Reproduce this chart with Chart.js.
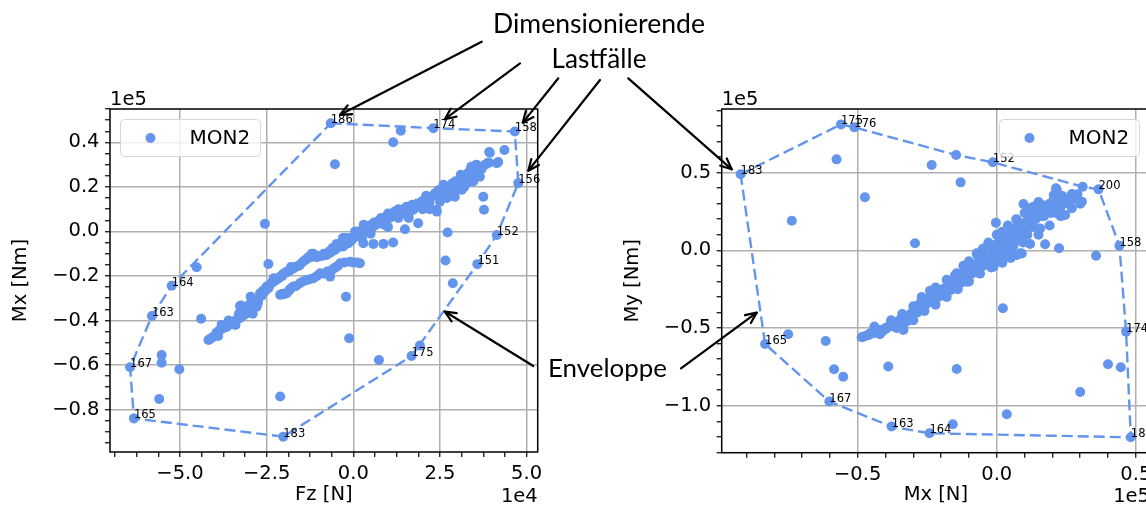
<!DOCTYPE html>
<html>
<head>
<meta charset="utf-8">
<script src="https://cdn.jsdelivr.net/npm/chart.js@4"></script>
<style>
  html, body { margin: 0; padding: 0; background: #fff; overflow: hidden; }
  #wrap { position: relative; width: 1146px; height: 506px; overflow: hidden; }
  canvas { position: absolute; top: 0; }
  #chartFz { left: 0; }
  #chartMx { left: 610px; }
  #overlay { left: 0; pointer-events: none; }
</style>
</head>
<body>
<div id="wrap">
  <canvas id="chartFz" width="560" height="506"></canvas>
  <canvas id="chartMx" width="550" height="506"></canvas>
  <canvas id="overlay" width="1146" height="506"></canvas>
</div>
<script>
// ---- left plot: Fz [1e4 N] vs Mx [1e5 Nm] ----
const fzPoints = [
  // upper strand
  -4.15, -4.10, -4.04, -3.95, -3.90, -3.85, -3.75, -3.70, -3.65, -3.55, -3.50, -3.46, -3.40, -3.35, -3.28, -3.22,
  -3.15, -3.10, -3.05, -2.98, -2.90, -2.85, -2.79, -2.75, -3.24, -2.96, -2.69, -2.65, -2.60, -2.55, -2.50, -2.45,
  -2.40, -2.35, -2.31, -2.25, -2.20, -2.15, -2.11, -2.05, -2.02, -1.95, -1.92, -1.87, -1.83, -1.78, -1.73, -1.68,
  -1.64, -1.58, -1.54, -1.48, -1.40, -1.35, -1.30, -1.20, -1.15, -1.06, -0.98, -0.90, -0.85, -0.77, -0.70, -0.65,
  -0.60, -0.53, -0.48, -0.45, -0.40, -0.35, -0.29, -0.25, -0.14, -0.10, -0.05, 0.00, 0.05, 0.10, 0.15, 0.19,
  0.28, 0.34, 0.40, 0.45, 0.52, 0.58, 0.65, 0.70, 0.77, 0.85, 0.96, 1.05, 1.10, 1.15, 1.20, 1.25,
  1.35, 1.40, 1.45, 1.50, 1.54, 1.65, 1.73, 1.80, 1.85, 1.92, 1.98, 2.07, 2.12, 2.21, 2.30, 2.35,
  2.41, 2.45, 2.50, 2.60, 2.65, 2.70, 2.79, 2.85, 2.88, 2.95, 2.98, 3.07, 3.10, 3.17, 3.22, 3.28,
  3.32, 3.37, 3.45, 3.50, 3.56, 3.60, 3.65, 3.80, 3.89, 3.94, 0.05, 0.25, -0.20, 0.60, 0.90, 1.00,
  1.30, 1.60, 2.00, 2.20, 2.55, 2.75, 3.00, 3.30, 3.70, 3.39, -3.60, -3.00,
  -3.80, -3.30, -2.80, -2.30, -1.80, -1.20, -0.30, 0.30, 0.80, 1.30, 1.70, 2.10, 2.60, 3.10, 3.40, 3.55,
  -3.90, -3.40, -2.90, 0.50, 1.00, 1.60, 2.20, 2.70, 3.20,
  // lower strand
  -2.11, -2.05, -2.00, -1.92, -1.85, -1.80, -1.73, -1.65, -1.54, -1.45, -1.34, -1.25, -1.15, -1.05, -0.96, -0.85,
  -0.75, -0.67, -0.62, -0.55, -0.50, -0.45, -0.38, -0.25, -0.10, 0.00, 0.10, 0.19, 0.29, 0.58, 0.87, 1.15,
  1.49, 1.87, 2.41, 2.50, 2.93, 3.13, 3.46,
  // scattered cases
  -0.53, 1.15, 1.37, 3.92, 4.36, 3.91, 4.18, 3.75, 3.77, 2.72, 2.66, 2.87, 2.40, -2.55, -0.21, -2.45,
  -4.52, -4.39, -4.18, -5.53, -5.53, -5.02, -5.60, -2.11, -3.27, -0.12, 0.74, 1.92, 4.14
];
const mxPoints = [
  -0.485, -0.480, -0.473, -0.455, -0.450, -0.443, -0.435, -0.430, -0.428, -0.418, -0.410, -0.410, -0.400, -0.395, -0.390, -0.383,
  -0.375, -0.370, -0.365, -0.360, -0.345, -0.340, -0.338, -0.320, -0.333, -0.293, -0.278, -0.290, -0.265, -0.270, -0.248, -0.255,
  -0.240, -0.230, -0.226, -0.220, -0.215, -0.210, -0.203, -0.200, -0.190, -0.185, -0.181, -0.180, -0.175, -0.170, -0.166, -0.160,
  -0.158, -0.155, -0.151, -0.140, -0.130, -0.125, -0.116, -0.115, -0.100, -0.116, -0.110, -0.110, -0.100, -0.106, -0.090, -0.095,
  -0.075, -0.083, -0.056, -0.065, -0.070, -0.055, -0.068, -0.045, -0.053, -0.030, -0.040, -0.031, -0.020, -0.020, 0.000, -0.016,
  0.005, 0.010, 0.020, 0.015, 0.030, 0.022, 0.030, 0.045, 0.037, 0.050, 0.052, 0.060, 0.070, 0.074, 0.090, 0.080,
  0.089, 0.080, 0.100, 0.095, 0.111, 0.105, 0.097, 0.110, 0.125, 0.119, 0.135, 0.142, 0.150, 0.149, 0.160, 0.170,
  0.172, 0.185, 0.180, 0.187, 0.200, 0.195, 0.201, 0.215, 0.210, 0.225, 0.217, 0.225, 0.240, 0.231, 0.250, 0.250,
  0.265, 0.269, 0.255, 0.275, 0.262, 0.285, 0.246, 0.300, 0.309, 0.354, 0.000, -0.030, -0.030, 0.040, 0.030, 0.080,
  0.060, 0.080, 0.100, 0.130, 0.150, 0.170, 0.190, 0.220, 0.280, 0.276, -0.400, -0.330,
  -0.420, -0.370, -0.310, -0.210, -0.160, -0.100, -0.030, 0.030, 0.060, 0.100, 0.120, 0.160, 0.210, 0.255, 0.290, 0.300,
  -0.470, -0.420, -0.370, -0.010, 0.020, 0.060, 0.100, 0.150, 0.200,
  -0.285, -0.280, -0.282, -0.278, -0.265, -0.255, -0.248, -0.245, -0.233, -0.225, -0.218, -0.215, -0.210, -0.200, -0.188, -0.190,
  -0.180, -0.203, -0.173, -0.165, -0.160, -0.155, -0.143, -0.140, -0.136, -0.140, -0.140, -0.143, -0.053, -0.056, -0.056, -0.050,
  0.010, 0.037, 0.089, 0.134, 0.156, 0.187, 0.224,
  0.302, 0.401, 0.452, 0.357, 0.366, 0.309, 0.312, 0.156, 0.097, -0.005, -0.131, -0.233, 0.097, 0.034, -0.293, -0.146,
  -0.161, -0.392, -0.488, -0.555, -0.590, -0.619, -0.753, -0.742, -0.335, -0.480, -0.578, -0.513, 0.306
];
// envelope (hull) vertices, closed, with load case numbers
const hullFz = [-0.65, 2.31, 4.66, 4.76, 4.14, 3.58, 1.68, -2.02, -6.33, -6.44, -5.81, -5.24, -0.65];
const hullMx = [0.486, 0.464, 0.449, 0.217, -0.016, -0.147, -0.560, -0.922, -0.840, -0.610, -0.380, -0.244, 0.486];
const hullFzLabels = ['186', '174', '158', '156', '152', '151', '175', '183', '165', '167', '163', '164', ''];

// ---- right plot: Mx [1e5 N] vs My [1e5 Nm] ----
const mxPointsR = [
  // scattered cases
  -0.576, -0.737, -0.474, -0.234, -0.130, -0.294, -0.003, 0.096, 0.213, 0.270, 0.306, 0.174, 0.224, 0.357, -0.750, -0.615,
  -0.585, -0.552, -0.390, 0.022, -0.144, 0.036, 0.300, 0.400, 0.446, -0.158,
  // main band
  -0.486, -0.480, -0.456, -0.444, -0.420, -0.408, -0.396, -0.384, -0.354, -0.336, -0.336, -0.318, -0.300, -0.294, -0.276, -0.260,
  -0.240, -0.234, -0.220, -0.204, -0.190, -0.180, -0.160, -0.144, -0.120, -0.108, -0.108, -0.090, -0.072, -0.054, -0.036, -0.012,
  -0.018, -0.030, 0.000, 0.012, 0.036, 0.060, 0.072, 0.050, 0.084, 0.100, 0.120, 0.144, 0.156, 0.130, 0.180, 0.170,
  0.204, 0.216, 0.240, 0.276, 0.200, 0.230, 0.132, 0.180, 0.216, 0.246, 0.072, 0.036, 0.012, 0.084, 0.042, -0.036,
  -0.072, -0.200, -0.170, -0.250, -0.310, -0.130, -0.060, 0.020, 0.110,
  -0.470, -0.460, -0.430, -0.410, -0.400, -0.370, -0.360, -0.350, -0.330, -0.320, -0.310, -0.290, -0.285, -0.270, -0.265, -0.250,
  -0.245, -0.230, -0.225, -0.210, -0.210, -0.195, -0.185, -0.170, -0.165, -0.150, -0.150, -0.135, -0.130, -0.120, -0.110, -0.100,
  -0.090, -0.080, -0.070, -0.060, -0.050, -0.045, -0.030, -0.020, -0.010, 0.000, 0.005, 0.020, 0.025, 0.030, 0.045, 0.050,
  0.060, 0.065, 0.070, 0.080, 0.090, 0.095, 0.105, 0.110, 0.125, 0.130, 0.140, 0.150, 0.160, 0.165, 0.175, 0.190,
  0.195, 0.205, 0.210, 0.225, 0.235, 0.250, 0.260, 0.285, 0.290,
  -0.440, -0.380, -0.340, -0.300, -0.270, -0.240, -0.220, -0.180, -0.150, -0.120, -0.100, -0.070, -0.050, -0.030, 0.000, 0.020,
  0.040, 0.070, 0.100, 0.120, 0.150,
  -0.420, -0.360, -0.300, -0.260, -0.220, -0.180, -0.140, -0.100, -0.060, -0.020, 0.020, 0.050, 0.090, 0.120, 0.150, 0.190,
  0.230, 0.270, 0.300
];
const myPointsR = [
  0.585, 0.190, 0.341, 0.549, 0.437, 0.045, 0.178, 0.298, 0.399, 0.362, 0.313, 0.039, 0.013, -0.035, -0.540, -0.583,
  -0.765, -0.813, -0.748, -0.373, -0.763, -1.055, -0.911, -0.733, -0.752, -1.119,
  -0.559, -0.556, -0.534, -0.534, -0.513, -0.513, -0.502, -0.480, -0.459, -0.513, -0.502, -0.430, -0.395, -0.395, -0.341, -0.360,
  -0.320, -0.320, -0.280, -0.255, -0.290, -0.234, -0.210, -0.148, -0.191, -0.127, -0.202, -0.150, -0.105, -0.019, -0.062, -0.105,
  0.023, -0.040, -0.020, 0.077, 0.002, 0.109, -0.030, 0.040, 0.174, 0.120, 0.195, 0.238, 0.141, 0.210, 0.270, 0.220,
  0.323, 0.388, 0.313, 0.345, 0.270, 0.280, 0.280, 0.270, 0.238, 0.227, 0.195, 0.109, 0.066, -0.019, -0.030, 0.023,
  -0.019, -0.270, -0.240, -0.330, -0.420, -0.160, -0.070, 0.030, 0.160,
  -0.550, -0.545, -0.525, -0.520, -0.500, -0.490, -0.470, -0.450, -0.440, -0.455, -0.410, -0.380, -0.400, -0.360, -0.330, -0.340,
  -0.310, -0.300, -0.330, -0.270, -0.300, -0.250, -0.270, -0.230, -0.255, -0.200, -0.230, -0.170, -0.210, -0.150, -0.180, -0.140,
  -0.120, -0.090, -0.130, -0.070, -0.100, -0.040, -0.080, -0.050, 0.000, 0.040, -0.070, 0.020, -0.040, 0.070, 0.000, 0.090,
  0.030, 0.140, 0.060, 0.100, 0.150, 0.050, 0.180, 0.100, 0.220, 0.150, 0.200, 0.260, 0.220, 0.290, 0.250, 0.300,
  0.240, 0.355, 0.290, 0.320, 0.350, 0.330, 0.300, 0.330, 0.360,
  -0.490, -0.450, -0.410, -0.360, -0.300, -0.260, -0.240, -0.190, -0.160, -0.100, -0.070, -0.030, 0.010, 0.050, 0.100, 0.120,
  0.160, 0.200, 0.240, 0.270, 0.310,
  -0.540, -0.500, -0.450, -0.390, -0.350, -0.300, -0.250, -0.200, -0.150, -0.110, -0.080, -0.050, -0.020, 0.040, 0.100, 0.160,
  0.220, 0.270, 0.300
];
const hullMxR = [-0.921, -0.560, -0.512, -0.146, -0.014, 0.309, 0.366, 0.441, 0.465, 0.482, -0.242, -0.378, -0.602, -0.833, -0.921];
const hullMyR = [0.489, 0.810, 0.791, 0.613, 0.566, 0.409, 0.392, 0.030, -0.523, -1.203, -1.177, -1.134, -0.973, -0.603, 0.489];
const hullMxLabels = ['183', '175', '176', '', '152', '', '200', '158', '174', '186', '164', '163', '167', '165', ''];

const seriesLabel = 'MON2';

const MPL_FONT = '"DejaVu Sans", sans-serif';
const BLUE = '#6495ED';

function isMajor(value, major) {
  const r = value / major;
  return Math.abs(r - Math.round(r)) < 1e-6;
}

function tickLabel(major) {
  return function (value) {
    if (!isMajor(value, major)) return '';
    const v = Math.round(value * 10) / 10;
    return (v === 0 ? 0 : v).toFixed(1).replace('-', '\u2212');
  };
}

function axis(o) {
  return {
    type: 'linear',
    position: o.position,
    min: o.min,
    max: o.max,
    afterFit: s => { if (o.position === 'left') s.width = o.size; else s.height = o.size; },
    title: {
      display: true, text: o.title, color: '#000', padding: o.titlePad,
      font: { family: MPL_FONT, size: 19.5, lineHeight: 1 }
    },
    ticks: {
      stepSize: o.minor, includeBounds: false, autoSkip: false, maxRotation: 0,
      color: '#000', padding: 5.5, font: { family: MPL_FONT, size: 19.5 },
      callback: tickLabel(o.major)
    },
    grid: {
      color: c => isMajor(c.tick.value, o.major) ? '#b0b0b0' : 'rgba(0,0,0,0)',
      lineWidth: 1.5, tickColor: '#000', tickLength: 5, tickWidth: 1.2
    },
    border: { display: false }
  };
}

function toXY(xs, ys) {
  return xs.map((x, i) => ({ x: x, y: ys[i] }));
}

// frame, legend, hull labels and offset text like matplotlib
const mplExtras = {
  id: 'mplExtras',
  afterDatasetsDraw(chart, args, o) {
    const ctx = chart.ctx;
    const a = chart.chartArea;
    ctx.save();

    // load case numbers at the envelope vertices
    const hullMeta = chart.getDatasetMeta(1);
    ctx.font = '11.5px ' + MPL_FONT;
    ctx.fillStyle = '#000';
    ctx.textAlign = 'left';
    ctx.textBaseline = 'alphabetic';
    o.hullLabels.forEach((t, i) => {
      if (!t) return;
      const el = hullMeta.data[i];
      ctx.fillText(t, el.x, el.y);
    });

    // frame
    ctx.strokeStyle = '#000';
    ctx.lineWidth = 1.5;
    ctx.strokeRect(a.left, a.top, a.right - a.left, a.bottom - a.top);

    // legend
    const ds = chart.data.datasets[0];
    const w = 140, h = 37;
    const bx = o.legendRight ? a.right - 10.5 - w : a.left + 10.5;
    const by = a.top + 10.5;
    ctx.beginPath();
    ctx.roundRect(bx, by, w, h, 4);
    ctx.fillStyle = 'rgba(255,255,255,0.8)';
    ctx.fill();
    ctx.strokeStyle = '#d6d6d6';
    ctx.lineWidth = 1;
    ctx.stroke();
    ctx.beginPath();
    ctx.arc(bx + 30, by + h / 2, 5, 0, Math.PI * 2);
    ctx.fillStyle = ds.backgroundColor;
    ctx.fill();
    ctx.fillStyle = '#000';
    ctx.font = '20px ' + MPL_FONT;
    ctx.textBaseline = 'middle';
    ctx.fillText(ds.label, bx + 69, by + h / 2 + 1);

    // offset texts
    ctx.font = '19.5px ' + MPL_FONT;
    ctx.textBaseline = 'alphabetic';
    ctx.textAlign = 'left';
    ctx.fillText(o.yOffset, a.left, a.top - 4);
    ctx.textAlign = 'right';
    ctx.fillText(o.xOffset, a.right, chart.height - 4);
    ctx.restore();
  }
};

function makeChart(id, pts, hull, o) {
  return new Chart(document.getElementById(id), {
    type: 'scatter',
    data: {
      datasets: [
        {
          label: seriesLabel,
          data: pts,
          backgroundColor: BLUE,
          borderWidth: 0,
          pointRadius: 5
        },
        {
          label: 'Enveloppe',
          data: hull,
          showLine: true,
          borderColor: BLUE,
          borderWidth: 2.4,
          borderDash: [11, 5],
          pointRadius: 0,
          fill: false
        }
      ]
    },
    options: {
      responsive: false,
      animation: false,
      events: [],
      layout: { padding: { left: 0, top: 109, right: o.padRight, bottom: 0 } },
      scales: { x: o.x, y: o.y },
      plugins: {
        legend: { display: false },
        tooltip: { enabled: false },
        mplExtras: o.extras
      }
    },
    plugins: [mplExtras]
  });
}

const chartFz = makeChart('chartFz',
  toXY(fzPoints.concat(hullFz.slice(0, -1)), mxPoints.concat(hullMx.slice(0, -1))),
  toXY(hullFz, hullMx),
  {
    padRight: 22.3,
    x: axis({ position: 'bottom', min: -7.02, max: 5.32, major: 2.5, minor: 0.625, size: 54, title: 'Fz [N]', titlePad: 1.2 }),
    y: axis({ position: 'left', min: -0.991, max: 0.55, major: 0.2, minor: 0.05, size: 110, title: 'Mx [Nm]', titlePad: 11.4 }),
    extras: { hullLabels: hullFzLabels, legendRight: false, xOffset: '1e4', yOffset: '1e5' }
  });

const chartMx = makeChart('chartMx',
  toXY(mxPointsR.concat(hullMxR.slice(0, -1)), myPointsR.concat(hullMyR.slice(0, -1))),
  toXY(hullMxR, hullMyR),
  {
    padRight: 10,
    x: axis({ position: 'bottom', min: -0.989, max: 0.551, major: 0.5, minor: 0.1, size: 53.3, title: 'Mx [N]', titlePad: 1.2 }),
    y: axis({ position: 'left', min: -1.302, max: 0.909, major: 0.5, minor: 0.1, size: 111.7, title: 'My [Nm]', titlePad: 13.1 }),
    extras: { hullLabels: hullMxLabels, legendRight: true, xOffset: '1e5', yOffset: '1e5' }
  });

// ---- annotations across both plots ----
// tips are in data coordinates of the plot they point into, tails in page pixels
const arrows = [
  { chart: chartFz, left: 0, tip: [-0.38, 0.524], tail: [481.7, 41.7] },
  { chart: chartFz, left: 0, tip: [2.64, 0.504], tail: [520, 63.3] },
  { chart: chartFz, left: 0, tip: [4.89, 0.489], tail: [558.3, 78.3] },
  { chart: chartFz, left: 0, tip: [5.05, 0.273], tail: [600, 80] },
  { chart: chartMx, left: 610, tip: [-0.953, 0.521], tail: [628.3, 78.3] },
  { chart: chartFz, left: 0, tip: [2.64, -0.360], tail: [533.3, 366] },
  { chart: chartMx, left: 610, tip: [-0.863, -0.401], tail: [681, 368.3] }
];

function drawAnnotations() {
  const ctx = document.getElementById('overlay').getContext('2d');
  ctx.strokeStyle = '#000';
  ctx.lineWidth = 2.2;
  ctx.lineCap = 'round';
  ctx.lineJoin = 'round';
  arrows.forEach(a => {
    const tx = a.left + a.chart.scales.x.getPixelForValue(a.tip[0]);
    const ty = a.chart.scales.y.getPixelForValue(a.tip[1]);
    const [sx, sy] = a.tail;
    const ang = Math.atan2(ty - sy, tx - sx);
    ctx.beginPath();
    ctx.moveTo(sx, sy);
    ctx.lineTo(tx, ty);
    ctx.stroke();
    ctx.beginPath();
    ctx.moveTo(tx - 12 * Math.cos(ang - 0.42), ty - 12 * Math.sin(ang - 0.42));
    ctx.lineTo(tx, ty);
    ctx.lineTo(tx - 12 * Math.cos(ang + 0.42), ty - 12 * Math.sin(ang + 0.42));
    ctx.stroke();
  });

  // text fitted to the widths measured on the figure
  const texts = [
    { t: 'Dimensionierende', x: 599, y: 33.3, w: 212, align: 'center' },
    { t: 'Lastfälle', x: 599, y: 68.3, w: 95, align: 'center' },
    { t: 'Enveloppe', x: 548, y: 376.7, w: 119, align: 'left' }
  ];
  ctx.fillStyle = '#000';
  ctx.textBaseline = 'alphabetic';
  texts.forEach(s => {
    ctx.font = '20px Lato, sans-serif';
    const size = 20 * s.w / ctx.measureText(s.t).width;
    ctx.font = size.toFixed(2) + 'px Lato, sans-serif';
    ctx.textAlign = s.align;
    ctx.fillText(s.t, s.x, s.y);
  });
}

drawAnnotations();
</script>
</body>
</html>
